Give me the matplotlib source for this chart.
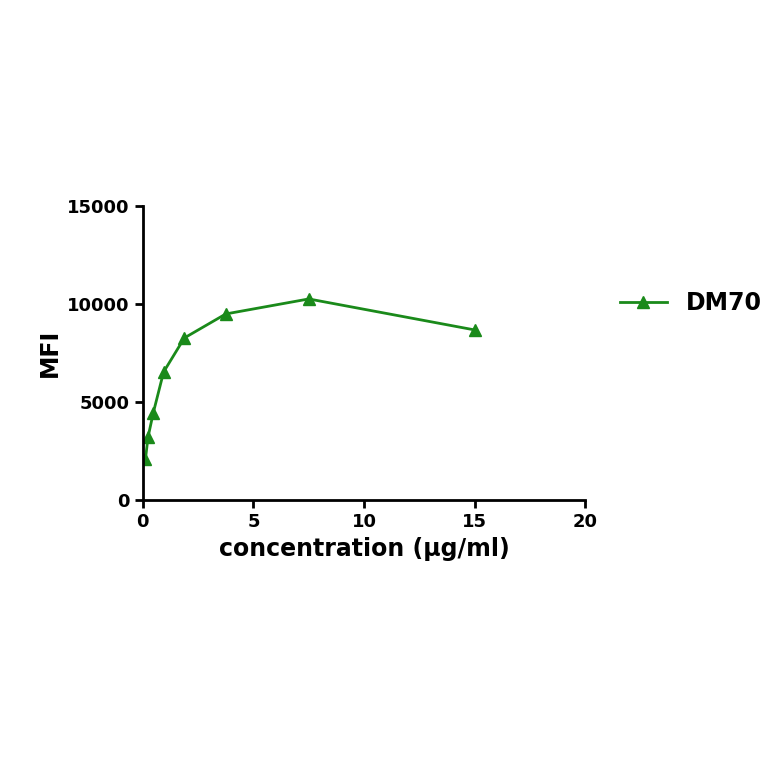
import matplotlib
matplotlib.use("Agg")
import matplotlib.pyplot as plt

conc = [0.117, 0.234, 0.469, 0.9375, 1.875, 3.75, 7.5, 15]
mfi = [2090, 3210, 4440, 6530, 8265, 9490, 10255, 8675]
xticks = [0, 5, 10, 15, 20]
yticks = [0, 5000, 10000, 15000]

fig = plt.figure(figsize=(7.64, 7.64), dpi=100)
ax = fig.add_axes([0.187, 0.3455, 0.579, 0.385])
ax.plot(conc, mfi, color="#1a8a1a", marker="^", markersize=8, linewidth=2, label="DM70")
ax.set_xlim(0, 20)
ax.set_ylim(0, 15000)
ax.set_xticks(xticks)
ax.set_yticks(yticks)
for s in ["top", "right"]:
    ax.spines[s].set_visible(False)
for s in ["left", "bottom"]:
    ax.spines[s].set_linewidth(2)
ax.tick_params(width=2, length=6, labelsize=13)
for lab in ax.get_xticklabels() + ax.get_yticklabels():
    lab.set_fontweight("bold")
ax.set_xlabel("concentration (\u03bcg/ml)", fontsize=17, fontweight="bold")
ax.set_ylabel("MFI", fontsize=17, fontweight="bold")
leg = ax.legend(loc="center left", bbox_to_anchor=(1.03, 0.67), frameon=False,
                prop={"size": 17, "weight": "bold"}, handlelength=2)
fig.savefig("out.png", dpi=100)
